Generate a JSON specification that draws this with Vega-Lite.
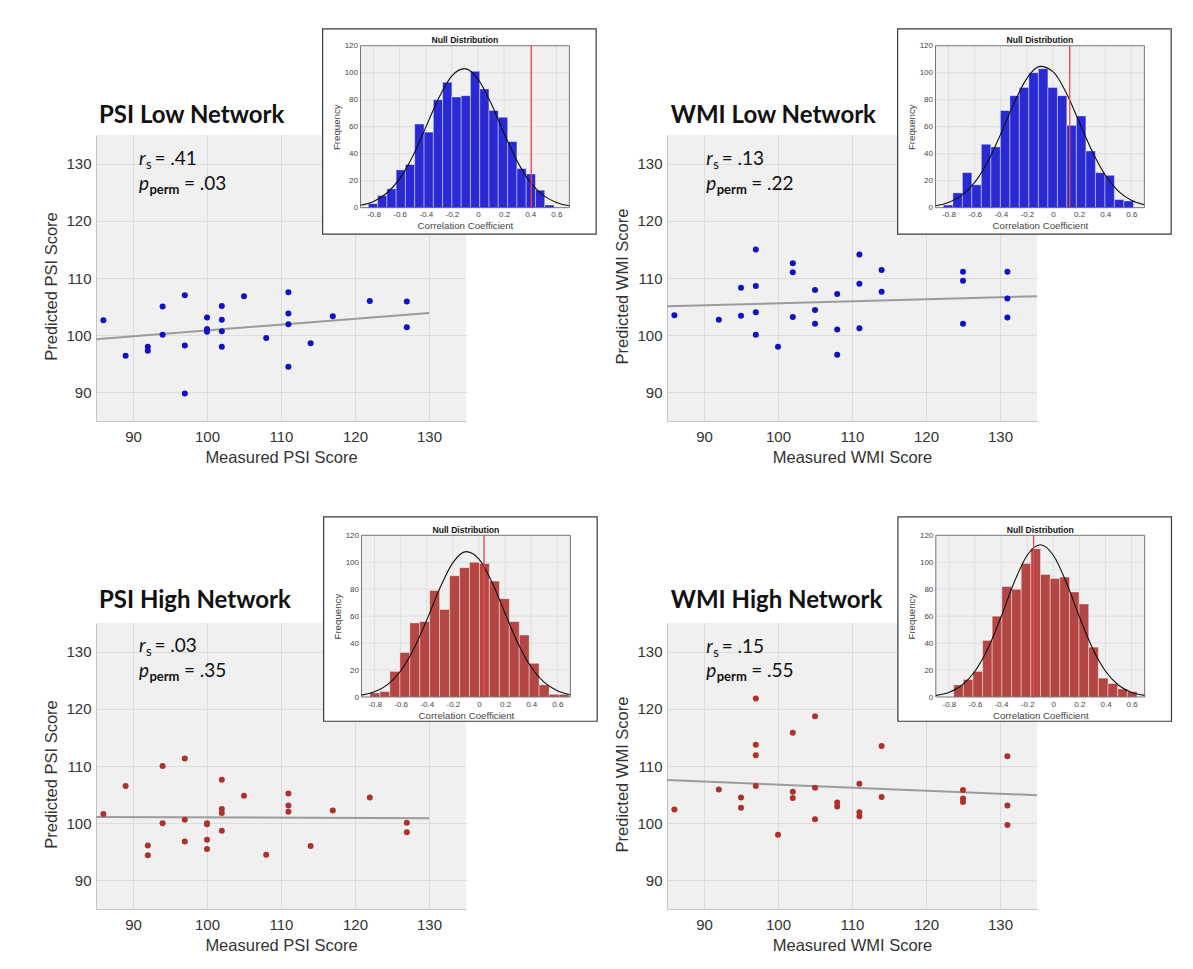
{
  "$schema": "https://vega.github.io/schema/vega-lite/v6.json",
  "background": "white",
  "padding": {"left": 43, "top": 28, "right": 5, "bottom": 5},
  "config": {
    "view": {"fill": "#f0f0f0", "stroke": null},
    "axis": {"labelFont": "Liberation Sans", "titleFont": "Liberation Sans", "labelColor": "#333333", "titleColor": "#333333", "titleFontWeight": "normal", "ticks": false, "labelOverlap": false},
    "text": {"font": "Lato", "color": "#111111"}
  },
  "columns": 2,
  "spacing": {"row": 202, "column": 201},
  "bounds": "flush",
  "concat": [
    {
      "width": 370, "height": 286,
      "resolve": {"scale": {"x": "independent", "y": "independent"}, "axis": {"x": "independent", "y": "independent"}},
      "layer": [
        {"layer": [
          {"data": {"name": "reg1"}, "mark": {"type": "line", "color": "#9c9c9c", "strokeWidth": 2},
           "encoding": {
             "x": {"field": "measured", "type": "quantitative", "scale": {"domain": [85, 135], "nice": false, "zero": false},
                   "axis": {"title": "Measured PSI Score", "values": [90, 100, 110, 120, 130], "grid": true, "gridColor": "#dcdcdc", "domainColor": "#c4c4c4", "labelFontSize": 15, "labelPadding": 8, "titleFontSize": 16.5, "titlePadding": 5}},
             "y": {"field": "predicted", "type": "quantitative", "scale": {"domain": [85, 135], "nice": false, "zero": false},
                   "axis": {"title": "Predicted PSI Score", "values": [90, 100, 110, 120, 130], "grid": true, "gridColor": "#dcdcdc", "domainColor": "#c4c4c4", "labelFontSize": 15, "labelPadding": 5, "titleFontSize": 16.5, "titlePadding": 6, "titleY": 151}}
           }},
          {"data": {"name": "psi_low"}, "mark": {"type": "circle", "size": 36, "opacity": 1, "color": "#1010c4"},
           "encoding": {"x": {"field": "measured", "type": "quantitative"}, "y": {"field": "predicted", "type": "quantitative"}}},
          {"data": {"values": [{}]}, "mark": {"type": "text", "text": "PSI Low Network", "fontWeight": "bold", "fontSize": 24, "align": "left", "baseline": "alphabetic"}, "encoding": {"x": {"datum": 85.4}, "y": {"datum": 137.05}}},
          {"data": {"values": [{}]}, "mark": {"type": "text", "text": "r", "fontStyle": "italic", "fontSize": 19, "align": "left", "baseline": "alphabetic"}, "encoding": {"x": {"datum": 90.8}, "y": {"datum": 129.75}}},
          {"data": {"values": [{}]}, "mark": {"type": "text", "text": "s", "fontSize": 13, "align": "left", "baseline": "alphabetic", "dx": 7, "dy": 4}, "encoding": {"x": {"datum": 90.8}, "y": {"datum": 129.75}}},
          {"data": {"values": [{}]}, "mark": {"type": "text", "text": "= .41", "fontSize": 19, "align": "left", "baseline": "alphabetic", "dx": 15.5}, "encoding": {"x": {"datum": 90.8}, "y": {"datum": 129.75}}},
          {"data": {"values": [{}]}, "mark": {"type": "text", "text": "p", "fontStyle": "italic", "fontSize": 19, "align": "left", "baseline": "alphabetic"}, "encoding": {"x": {"datum": 90.8}, "y": {"datum": 125.4}}},
          {"data": {"values": [{}]}, "mark": {"type": "text", "text": "perm", "fontSize": 13, "fontWeight": "bold", "align": "left", "baseline": "alphabetic", "dx": 10.5, "dy": 4}, "encoding": {"x": {"datum": 90.8}, "y": {"datum": 125.4}}},
          {"data": {"values": [{}]}, "mark": {"type": "text", "text": "= .03", "fontSize": 19, "align": "left", "baseline": "alphabetic", "dx": 45}, "encoding": {"x": {"datum": 90.8}, "y": {"datum": 125.4}}}
        ]},
        {"layer": [
          {"data": {"values": [{}]}, "mark": {"type": "rect", "fill": "white", "stroke": "#3a3a3a", "strokeWidth": 1.2},
           "encoding": {
             "x": {"datum": -1.19, "type": "quantitative", "scale": {"domain": [-0.9, 0.7], "range": [264.5, 473.4], "nice": false, "zero": false},
                   "axis": {"orient": "bottom", "offset": -213.3, "values": [-0.8, -0.6, -0.4, -0.2, 0, 0.2, 0.4, 0.6], "labelExpr": "datum.value == 0 ? '0' : toString(round(datum.value*10)/10)", "grid": false, "domain": false, "labelFontSize": 8, "labelColor": "#444444", "labelPadding": 3, "title": "Correlation Coefficient", "titleFontSize": 9.7, "titleColor": "#444444", "titlePadding": 2, "zindex": 1}},
             "x2": {"datum": 0.905},
             "y": {"datum": -19.5, "type": "quantitative", "scale": {"domain": [0, 120], "range": [72.7, -89.3], "nice": false, "zero": false},
                   "axis": {"orient": "left", "offset": -264.5, "values": [0, 20, 40, 60, 80, 100, 120], "grid": false, "domain": false, "labelFontSize": 8, "labelColor": "#444444", "labelPadding": 3, "title": "Frequency", "titleFontSize": 9.7, "titleColor": "#444444", "titlePadding": 3, "zindex": 1}},
             "y2": {"datum": 132.4}
           }},
          {"data": {"values": [{}]}, "mark": {"type": "rect", "fill": "#f0f0f0"}, "encoding": {"x": {"datum": -0.9}, "x2": {"datum": 0.7}, "y": {"datum": 0}, "y2": {"datum": 120}}},
          {"data": {"name": "xgrid"}, "mark": {"type": "rule", "stroke": "#d8d8d8", "strokeWidth": 0.7}, "encoding": {"x": {"field": "v", "type": "quantitative"}, "y": {"datum": 0}, "y2": {"datum": 120}}},
          {"data": {"name": "ygrid"}, "mark": {"type": "rule", "stroke": "#d8d8d8", "strokeWidth": 0.7}, "encoding": {"y": {"field": "v", "type": "quantitative"}, "x": {"datum": -0.9}, "x2": {"datum": 0.7}}},
          {"data": {"name": "h1"}, "mark": {"type": "rect", "fill": "#2a2ad4", "stroke": "#ffffff", "strokeOpacity": 0.5, "strokeWidth": 0.8}, "encoding": {"x": {"field": "lo", "type": "quantitative"}, "x2": {"field": "hi"}, "y": {"field": "count", "type": "quantitative"}, "y2": {"datum": 0}}},
          {"data": {"name": "c1"}, "mark": {"type": "line", "color": "#111111", "strokeWidth": 1.1, "interpolate": "monotone"}, "encoding": {"x": {"field": "r", "type": "quantitative"}, "y": {"field": "freq", "type": "quantitative"}}},
          {"data": {"values": [{"r": 0.408}]}, "mark": {"type": "rule", "color": "#e5484d", "strokeWidth": 1.3}, "encoding": {"x": {"field": "r", "type": "quantitative"}, "y": {"datum": 0}, "y2": {"datum": 120}}},
          {"data": {"values": [{}]}, "mark": {"type": "rect", "fillOpacity": 0, "stroke": "#555555", "strokeWidth": 0.8}, "encoding": {"x": {"datum": -0.9}, "x2": {"datum": 0.7}, "y": {"datum": 0}, "y2": {"datum": 120}}},
          {"data": {"values": [{}]}, "mark": {"type": "text", "text": "Null Distribution", "font": "Liberation Sans", "fontWeight": "bold", "fontSize": 8.6, "align": "center", "baseline": "alphabetic", "dy": -2.5}, "encoding": {"x": {"datum": -0.1}, "y": {"datum": 120}}}
        ]}
      ]
    },
    {
      "width": 370, "height": 286,
      "resolve": {"scale": {"x": "independent", "y": "independent"}, "axis": {"x": "independent", "y": "independent"}},
      "layer": [
        {"layer": [
          {"data": {"name": "reg2"}, "mark": {"type": "line", "color": "#9c9c9c", "strokeWidth": 2},
           "encoding": {
             "x": {"field": "measured", "type": "quantitative", "scale": {"domain": [85, 135], "nice": false, "zero": false},
                   "axis": {"title": "Measured WMI Score", "values": [90, 100, 110, 120, 130], "grid": true, "gridColor": "#dcdcdc", "domainColor": "#c4c4c4", "labelFontSize": 15, "labelPadding": 8, "titleFontSize": 16.5, "titlePadding": 5}},
             "y": {"field": "predicted", "type": "quantitative", "scale": {"domain": [85, 135], "nice": false, "zero": false},
                   "axis": {"title": "Predicted WMI Score", "values": [90, 100, 110, 120, 130], "grid": true, "gridColor": "#dcdcdc", "domainColor": "#c4c4c4", "labelFontSize": 15, "labelPadding": 5, "titleFontSize": 16.5, "titlePadding": 6, "titleY": 151}}
           }},
          {"data": {"name": "wmi_low"}, "mark": {"type": "circle", "size": 36, "opacity": 1, "color": "#1010c4"},
           "encoding": {"x": {"field": "measured", "type": "quantitative"}, "y": {"field": "predicted", "type": "quantitative"}}},
          {"data": {"values": [{}]}, "mark": {"type": "text", "text": "WMI Low Network", "fontWeight": "bold", "fontSize": 24, "align": "left", "baseline": "alphabetic"}, "encoding": {"x": {"datum": 85.5}, "y": {"datum": 137.05}}},
          {"data": {"values": [{}]}, "mark": {"type": "text", "text": "r", "fontStyle": "italic", "fontSize": 19, "align": "left", "baseline": "alphabetic"}, "encoding": {"x": {"datum": 90.3}, "y": {"datum": 129.75}}},
          {"data": {"values": [{}]}, "mark": {"type": "text", "text": "s", "fontSize": 13, "align": "left", "baseline": "alphabetic", "dx": 7, "dy": 4}, "encoding": {"x": {"datum": 90.3}, "y": {"datum": 129.75}}},
          {"data": {"values": [{}]}, "mark": {"type": "text", "text": "= .13", "fontSize": 19, "align": "left", "baseline": "alphabetic", "dx": 15.5}, "encoding": {"x": {"datum": 90.3}, "y": {"datum": 129.75}}},
          {"data": {"values": [{}]}, "mark": {"type": "text", "text": "p", "fontStyle": "italic", "fontSize": 19, "align": "left", "baseline": "alphabetic"}, "encoding": {"x": {"datum": 90.3}, "y": {"datum": 125.4}}},
          {"data": {"values": [{}]}, "mark": {"type": "text", "text": "perm", "fontSize": 13, "fontWeight": "bold", "align": "left", "baseline": "alphabetic", "dx": 10.5, "dy": 4}, "encoding": {"x": {"datum": 90.3}, "y": {"datum": 125.4}}},
          {"data": {"values": [{}]}, "mark": {"type": "text", "text": "= .22", "fontSize": 19, "align": "left", "baseline": "alphabetic", "dx": 45}, "encoding": {"x": {"datum": 90.3}, "y": {"datum": 125.4}}}
        ]},
        {"layer": [
          {"data": {"values": [{}]}, "mark": {"type": "rect", "fill": "white", "stroke": "#3a3a3a", "strokeWidth": 1.2},
           "encoding": {
             "x": {"datum": -1.19, "type": "quantitative", "scale": {"domain": [-0.9, 0.7], "range": [268.5, 477.4], "nice": false, "zero": false},
                   "axis": {"orient": "bottom", "offset": -213.3, "values": [-0.8, -0.6, -0.4, -0.2, 0, 0.2, 0.4, 0.6], "labelExpr": "datum.value == 0 ? '0' : toString(round(datum.value*10)/10)", "grid": false, "domain": false, "labelFontSize": 8, "labelColor": "#444444", "labelPadding": 3, "title": "Correlation Coefficient", "titleFontSize": 9.7, "titleColor": "#444444", "titlePadding": 2, "zindex": 1}},
             "x2": {"datum": 0.905},
             "y": {"datum": -19.5, "type": "quantitative", "scale": {"domain": [0, 120], "range": [72.7, -89.3], "nice": false, "zero": false},
                   "axis": {"orient": "left", "offset": -268.5, "values": [0, 20, 40, 60, 80, 100, 120], "grid": false, "domain": false, "labelFontSize": 8, "labelColor": "#444444", "labelPadding": 3, "title": "Frequency", "titleFontSize": 9.7, "titleColor": "#444444", "titlePadding": 3, "zindex": 1}},
             "y2": {"datum": 132.4}
           }},
          {"data": {"values": [{}]}, "mark": {"type": "rect", "fill": "#f0f0f0"}, "encoding": {"x": {"datum": -0.9}, "x2": {"datum": 0.7}, "y": {"datum": 0}, "y2": {"datum": 120}}},
          {"data": {"name": "xgrid"}, "mark": {"type": "rule", "stroke": "#d8d8d8", "strokeWidth": 0.7}, "encoding": {"x": {"field": "v", "type": "quantitative"}, "y": {"datum": 0}, "y2": {"datum": 120}}},
          {"data": {"name": "ygrid"}, "mark": {"type": "rule", "stroke": "#d8d8d8", "strokeWidth": 0.7}, "encoding": {"y": {"field": "v", "type": "quantitative"}, "x": {"datum": -0.9}, "x2": {"datum": 0.7}}},
          {"data": {"name": "h2"}, "mark": {"type": "rect", "fill": "#2a2ad4", "stroke": "#ffffff", "strokeOpacity": 0.5, "strokeWidth": 0.8}, "encoding": {"x": {"field": "lo", "type": "quantitative"}, "x2": {"field": "hi"}, "y": {"field": "count", "type": "quantitative"}, "y2": {"datum": 0}}},
          {"data": {"name": "c2"}, "mark": {"type": "line", "color": "#111111", "strokeWidth": 1.1, "interpolate": "monotone"}, "encoding": {"x": {"field": "r", "type": "quantitative"}, "y": {"field": "freq", "type": "quantitative"}}},
          {"data": {"values": [{"r": 0.128}]}, "mark": {"type": "rule", "color": "#e5484d", "strokeWidth": 1.3}, "encoding": {"x": {"field": "r", "type": "quantitative"}, "y": {"datum": 0}, "y2": {"datum": 120}}},
          {"data": {"values": [{}]}, "mark": {"type": "rect", "fillOpacity": 0, "stroke": "#555555", "strokeWidth": 0.8}, "encoding": {"x": {"datum": -0.9}, "x2": {"datum": 0.7}, "y": {"datum": 0}, "y2": {"datum": 120}}},
          {"data": {"values": [{}]}, "mark": {"type": "text", "text": "Null Distribution", "font": "Liberation Sans", "fontWeight": "bold", "fontSize": 8.6, "align": "center", "baseline": "alphabetic", "dy": -2.5}, "encoding": {"x": {"datum": -0.1}, "y": {"datum": 120}}}
        ]}
      ]
    },
    {
      "width": 370, "height": 286,
      "resolve": {"scale": {"x": "independent", "y": "independent"}, "axis": {"x": "independent", "y": "independent"}},
      "layer": [
        {"layer": [
          {"data": {"name": "reg3"}, "mark": {"type": "line", "color": "#9c9c9c", "strokeWidth": 2},
           "encoding": {
             "x": {"field": "measured", "type": "quantitative", "scale": {"domain": [85, 135], "nice": false, "zero": false},
                   "axis": {"title": "Measured PSI Score", "values": [90, 100, 110, 120, 130], "grid": true, "gridColor": "#dcdcdc", "domainColor": "#c4c4c4", "labelFontSize": 15, "labelPadding": 8, "titleFontSize": 16.5, "titlePadding": 5}},
             "y": {"field": "predicted", "type": "quantitative", "scale": {"domain": [85, 135], "nice": false, "zero": false},
                   "axis": {"title": "Predicted PSI Score", "values": [90, 100, 110, 120, 130], "grid": true, "gridColor": "#dcdcdc", "domainColor": "#c4c4c4", "labelFontSize": 15, "labelPadding": 5, "titleFontSize": 16.5, "titlePadding": 6, "titleY": 151}}
           }},
          {"data": {"name": "psi_high"}, "mark": {"type": "circle", "size": 36, "opacity": 1, "color": "#ad3229"},
           "encoding": {"x": {"field": "measured", "type": "quantitative"}, "y": {"field": "predicted", "type": "quantitative"}}},
          {"data": {"values": [{}]}, "mark": {"type": "text", "text": "PSI High Network", "fontWeight": "bold", "fontSize": 24, "align": "left", "baseline": "alphabetic"}, "encoding": {"x": {"datum": 85.4}, "y": {"datum": 137.6}}},
          {"data": {"values": [{}]}, "mark": {"type": "text", "text": "r", "fontStyle": "italic", "fontSize": 19, "align": "left", "baseline": "alphabetic"}, "encoding": {"x": {"datum": 90.8}, "y": {"datum": 130.0}}},
          {"data": {"values": [{}]}, "mark": {"type": "text", "text": "s", "fontSize": 13, "align": "left", "baseline": "alphabetic", "dx": 7, "dy": 4}, "encoding": {"x": {"datum": 90.8}, "y": {"datum": 130.0}}},
          {"data": {"values": [{}]}, "mark": {"type": "text", "text": "= .03", "fontSize": 19, "align": "left", "baseline": "alphabetic", "dx": 15.5}, "encoding": {"x": {"datum": 90.8}, "y": {"datum": 130.0}}},
          {"data": {"values": [{}]}, "mark": {"type": "text", "text": "p", "fontStyle": "italic", "fontSize": 19, "align": "left", "baseline": "alphabetic"}, "encoding": {"x": {"datum": 90.8}, "y": {"datum": 125.6}}},
          {"data": {"values": [{}]}, "mark": {"type": "text", "text": "perm", "fontSize": 13, "fontWeight": "bold", "align": "left", "baseline": "alphabetic", "dx": 10.5, "dy": 4}, "encoding": {"x": {"datum": 90.8}, "y": {"datum": 125.6}}},
          {"data": {"values": [{}]}, "mark": {"type": "text", "text": "= .35", "fontSize": 19, "align": "left", "baseline": "alphabetic", "dx": 45}, "encoding": {"x": {"datum": 90.8}, "y": {"datum": 125.6}}}
        ]},
        {"layer": [
          {"data": {"values": [{}]}, "mark": {"type": "rect", "fill": "white", "stroke": "#3a3a3a", "strokeWidth": 1.2},
           "encoding": {
             "x": {"datum": -1.19, "type": "quantitative", "scale": {"domain": [-0.9, 0.7], "range": [265.5, 474.4], "nice": false, "zero": false},
                   "axis": {"orient": "bottom", "offset": -212, "values": [-0.8, -0.6, -0.4, -0.2, 0, 0.2, 0.4, 0.6], "labelExpr": "datum.value == 0 ? '0' : toString(round(datum.value*10)/10)", "grid": false, "domain": false, "labelFontSize": 8, "labelColor": "#444444", "labelPadding": 3, "title": "Correlation Coefficient", "titleFontSize": 9.7, "titleColor": "#444444", "titlePadding": 2, "zindex": 1}},
             "x2": {"datum": 0.905},
             "y": {"datum": -18, "type": "quantitative", "scale": {"domain": [0, 120], "range": [74, -87.7], "nice": false, "zero": false},
                   "axis": {"orient": "left", "offset": -265.5, "values": [0, 20, 40, 60, 80, 100, 120], "grid": false, "domain": false, "labelFontSize": 8, "labelColor": "#444444", "labelPadding": 3, "title": "Frequency", "titleFontSize": 9.7, "titleColor": "#444444", "titlePadding": 3, "zindex": 1}},
             "y2": {"datum": 133.6}
           }},
          {"data": {"values": [{}]}, "mark": {"type": "rect", "fill": "#f0f0f0"}, "encoding": {"x": {"datum": -0.9}, "x2": {"datum": 0.7}, "y": {"datum": 0}, "y2": {"datum": 120}}},
          {"data": {"name": "xgrid"}, "mark": {"type": "rule", "stroke": "#d8d8d8", "strokeWidth": 0.7}, "encoding": {"x": {"field": "v", "type": "quantitative"}, "y": {"datum": 0}, "y2": {"datum": 120}}},
          {"data": {"name": "ygrid"}, "mark": {"type": "rule", "stroke": "#d8d8d8", "strokeWidth": 0.7}, "encoding": {"y": {"field": "v", "type": "quantitative"}, "x": {"datum": -0.9}, "x2": {"datum": 0.7}}},
          {"data": {"name": "h3"}, "mark": {"type": "rect", "fill": "#b44644", "stroke": "#ffffff", "strokeOpacity": 0.5, "strokeWidth": 0.8}, "encoding": {"x": {"field": "lo", "type": "quantitative"}, "x2": {"field": "hi"}, "y": {"field": "count", "type": "quantitative"}, "y2": {"datum": 0}}},
          {"data": {"name": "c3"}, "mark": {"type": "line", "color": "#111111", "strokeWidth": 1.1, "interpolate": "monotone"}, "encoding": {"x": {"field": "r", "type": "quantitative"}, "y": {"field": "freq", "type": "quantitative"}}},
          {"data": {"values": [{"r": 0.038}]}, "mark": {"type": "rule", "color": "#e5484d", "strokeWidth": 1.3}, "encoding": {"x": {"field": "r", "type": "quantitative"}, "y": {"datum": 0}, "y2": {"datum": 120}}},
          {"data": {"values": [{}]}, "mark": {"type": "rect", "fillOpacity": 0, "stroke": "#555555", "strokeWidth": 0.8}, "encoding": {"x": {"datum": -0.9}, "x2": {"datum": 0.7}, "y": {"datum": 0}, "y2": {"datum": 120}}},
          {"data": {"values": [{}]}, "mark": {"type": "text", "text": "Null Distribution", "font": "Liberation Sans", "fontWeight": "bold", "fontSize": 8.6, "align": "center", "baseline": "alphabetic", "dy": -2.5}, "encoding": {"x": {"datum": -0.1}, "y": {"datum": 120}}}
        ]}
      ]
    },
    {
      "width": 370, "height": 286,
      "resolve": {"scale": {"x": "independent", "y": "independent"}, "axis": {"x": "independent", "y": "independent"}},
      "layer": [
        {"layer": [
          {"data": {"name": "reg4"}, "mark": {"type": "line", "color": "#9c9c9c", "strokeWidth": 2},
           "encoding": {
             "x": {"field": "measured", "type": "quantitative", "scale": {"domain": [85, 135], "nice": false, "zero": false},
                   "axis": {"title": "Measured WMI Score", "values": [90, 100, 110, 120, 130], "grid": true, "gridColor": "#dcdcdc", "domainColor": "#c4c4c4", "labelFontSize": 15, "labelPadding": 8, "titleFontSize": 16.5, "titlePadding": 5}},
             "y": {"field": "predicted", "type": "quantitative", "scale": {"domain": [85, 135], "nice": false, "zero": false},
                   "axis": {"title": "Predicted WMI Score", "values": [90, 100, 110, 120, 130], "grid": true, "gridColor": "#dcdcdc", "domainColor": "#c4c4c4", "labelFontSize": 15, "labelPadding": 5, "titleFontSize": 16.5, "titlePadding": 6, "titleY": 151}}
           }},
          {"data": {"name": "wmi_high"}, "mark": {"type": "circle", "size": 36, "opacity": 1, "color": "#ad3229"},
           "encoding": {"x": {"field": "measured", "type": "quantitative"}, "y": {"field": "predicted", "type": "quantitative"}}},
          {"data": {"values": [{}]}, "mark": {"type": "text", "text": "WMI High Network", "fontWeight": "bold", "fontSize": 24, "align": "left", "baseline": "alphabetic"}, "encoding": {"x": {"datum": 85.5}, "y": {"datum": 137.6}}},
          {"data": {"values": [{}]}, "mark": {"type": "text", "text": "r", "fontStyle": "italic", "fontSize": 19, "align": "left", "baseline": "alphabetic"}, "encoding": {"x": {"datum": 90.3}, "y": {"datum": 129.8}}},
          {"data": {"values": [{}]}, "mark": {"type": "text", "text": "s", "fontSize": 13, "align": "left", "baseline": "alphabetic", "dx": 7, "dy": 4}, "encoding": {"x": {"datum": 90.3}, "y": {"datum": 129.8}}},
          {"data": {"values": [{}]}, "mark": {"type": "text", "text": "= .15", "fontSize": 19, "align": "left", "baseline": "alphabetic", "dx": 15.5}, "encoding": {"x": {"datum": 90.3}, "y": {"datum": 129.8}}},
          {"data": {"values": [{}]}, "mark": {"type": "text", "text": "p", "fontStyle": "italic", "fontSize": 19, "align": "left", "baseline": "alphabetic"}, "encoding": {"x": {"datum": 90.3}, "y": {"datum": 125.6}}},
          {"data": {"values": [{}]}, "mark": {"type": "text", "text": "perm", "fontSize": 13, "fontWeight": "bold", "align": "left", "baseline": "alphabetic", "dx": 10.5, "dy": 4}, "encoding": {"x": {"datum": 90.3}, "y": {"datum": 125.6}}},
          {"data": {"values": [{}]}, "mark": {"type": "text", "text": "= .55", "fontSize": 19, "align": "left", "baseline": "alphabetic", "dx": 45}, "encoding": {"x": {"datum": 90.3}, "y": {"datum": 125.6}}}
        ]},
        {"layer": [
          {"data": {"values": [{}]}, "mark": {"type": "rect", "fill": "white", "stroke": "#3a3a3a", "strokeWidth": 1.2},
           "encoding": {
             "x": {"datum": -1.19, "type": "quantitative", "scale": {"domain": [-0.9, 0.7], "range": [268.8, 477.7], "nice": false, "zero": false},
                   "axis": {"orient": "bottom", "offset": -212, "values": [-0.8, -0.6, -0.4, -0.2, 0, 0.2, 0.4, 0.6], "labelExpr": "datum.value == 0 ? '0' : toString(round(datum.value*10)/10)", "grid": false, "domain": false, "labelFontSize": 8, "labelColor": "#444444", "labelPadding": 3, "title": "Correlation Coefficient", "titleFontSize": 9.7, "titleColor": "#444444", "titlePadding": 2, "zindex": 1}},
             "x2": {"datum": 0.905},
             "y": {"datum": -18, "type": "quantitative", "scale": {"domain": [0, 120], "range": [74, -87.7], "nice": false, "zero": false},
                   "axis": {"orient": "left", "offset": -268.8, "values": [0, 20, 40, 60, 80, 100, 120], "grid": false, "domain": false, "labelFontSize": 8, "labelColor": "#444444", "labelPadding": 3, "title": "Frequency", "titleFontSize": 9.7, "titleColor": "#444444", "titlePadding": 3, "zindex": 1}},
             "y2": {"datum": 133.6}
           }},
          {"data": {"values": [{}]}, "mark": {"type": "rect", "fill": "#f0f0f0"}, "encoding": {"x": {"datum": -0.9}, "x2": {"datum": 0.7}, "y": {"datum": 0}, "y2": {"datum": 120}}},
          {"data": {"name": "xgrid"}, "mark": {"type": "rule", "stroke": "#d8d8d8", "strokeWidth": 0.7}, "encoding": {"x": {"field": "v", "type": "quantitative"}, "y": {"datum": 0}, "y2": {"datum": 120}}},
          {"data": {"name": "ygrid"}, "mark": {"type": "rule", "stroke": "#d8d8d8", "strokeWidth": 0.7}, "encoding": {"y": {"field": "v", "type": "quantitative"}, "x": {"datum": -0.9}, "x2": {"datum": 0.7}}},
          {"data": {"name": "h4"}, "mark": {"type": "rect", "fill": "#b44644", "stroke": "#ffffff", "strokeOpacity": 0.5, "strokeWidth": 0.8}, "encoding": {"x": {"field": "lo", "type": "quantitative"}, "x2": {"field": "hi"}, "y": {"field": "count", "type": "quantitative"}, "y2": {"datum": 0}}},
          {"data": {"name": "c4"}, "mark": {"type": "line", "color": "#111111", "strokeWidth": 1.1, "interpolate": "monotone"}, "encoding": {"x": {"field": "r", "type": "quantitative"}, "y": {"field": "freq", "type": "quantitative"}}},
          {"data": {"values": [{"r": -0.151}]}, "mark": {"type": "rule", "color": "#e5484d", "strokeWidth": 1.3}, "encoding": {"x": {"field": "r", "type": "quantitative"}, "y": {"datum": 0}, "y2": {"datum": 120}}},
          {"data": {"values": [{}]}, "mark": {"type": "rect", "fillOpacity": 0, "stroke": "#555555", "strokeWidth": 0.8}, "encoding": {"x": {"datum": -0.9}, "x2": {"datum": 0.7}, "y": {"datum": 0}, "y2": {"datum": 120}}},
          {"data": {"values": [{}]}, "mark": {"type": "text", "text": "Null Distribution", "font": "Liberation Sans", "fontWeight": "bold", "fontSize": 8.6, "align": "center", "baseline": "alphabetic", "dy": -2.5}, "encoding": {"x": {"datum": -0.1}, "y": {"datum": 120}}}
        ]}
      ]
    }
  ],
  "datasets": {
    "xgrid": [{"v": -0.8}, {"v": -0.6}, {"v": -0.4}, {"v": -0.2}, {"v": 0}, {"v": 0.2}, {"v": 0.4}, {"v": 0.6}],
    "ygrid": [{"v": 20}, {"v": 40}, {"v": 60}, {"v": 80}, {"v": 100}],
    "reg1": [{"measured": 85, "predicted": 99.3}, {"measured": 130, "predicted": 103.9}],
    "reg2": [{"measured": 85, "predicted": 105.05}, {"measured": 135, "predicted": 106.8}],
    "reg3": [{"measured": 85, "predicted": 101.1}, {"measured": 130, "predicted": 100.85}],
    "reg4": [{"measured": 85, "predicted": 107.55}, {"measured": 135, "predicted": 104.9}],
    "psi_low": [
      {"measured": 86, "predicted": 102.6}, {"measured": 89, "predicted": 96.4}, {"measured": 92, "predicted": 98.0}, {"measured": 92, "predicted": 97.3},
      {"measured": 94, "predicted": 105.0}, {"measured": 94, "predicted": 100.1}, {"measured": 97, "predicted": 107.0}, {"measured": 97, "predicted": 98.2},
      {"measured": 97, "predicted": 89.8}, {"measured": 100, "predicted": 103.1}, {"measured": 100, "predicted": 101.1}, {"measured": 100, "predicted": 100.6},
      {"measured": 102, "predicted": 105.1}, {"measured": 102, "predicted": 102.7}, {"measured": 102, "predicted": 100.7}, {"measured": 102, "predicted": 98.0},
      {"measured": 105, "predicted": 106.8}, {"measured": 108, "predicted": 99.5}, {"measured": 111, "predicted": 107.5}, {"measured": 111, "predicted": 103.8},
      {"measured": 111, "predicted": 101.9}, {"measured": 111, "predicted": 94.5}, {"measured": 114, "predicted": 98.6}, {"measured": 117, "predicted": 103.3},
      {"measured": 122, "predicted": 106.0}, {"measured": 127, "predicted": 105.9}, {"measured": 127, "predicted": 101.4}
    ],
    "wmi_low": [
      {"measured": 86, "predicted": 103.5}, {"measured": 92, "predicted": 102.7}, {"measured": 95, "predicted": 108.3}, {"measured": 95, "predicted": 103.4},
      {"measured": 97, "predicted": 115.0}, {"measured": 97, "predicted": 108.6}, {"measured": 97, "predicted": 104.0}, {"measured": 97, "predicted": 100.1},
      {"measured": 100, "predicted": 98.0}, {"measured": 102, "predicted": 112.6}, {"measured": 102, "predicted": 111.0}, {"measured": 102, "predicted": 103.2},
      {"measured": 105, "predicted": 107.9}, {"measured": 105, "predicted": 104.4}, {"measured": 105, "predicted": 102.0}, {"measured": 108, "predicted": 107.2},
      {"measured": 108, "predicted": 101.0}, {"measured": 108, "predicted": 96.6}, {"measured": 111, "predicted": 114.1}, {"measured": 111, "predicted": 109.0},
      {"measured": 111, "predicted": 101.2}, {"measured": 114, "predicted": 111.4}, {"measured": 114, "predicted": 107.6}, {"measured": 125, "predicted": 111.1},
      {"measured": 125, "predicted": 109.5}, {"measured": 125, "predicted": 102.0}, {"measured": 131, "predicted": 111.1}, {"measured": 131, "predicted": 106.4},
      {"measured": 131, "predicted": 103.1}
    ],
    "psi_high": [
      {"measured": 86, "predicted": 101.6}, {"measured": 89, "predicted": 106.5}, {"measured": 92, "predicted": 96.1}, {"measured": 92, "predicted": 94.4},
      {"measured": 94, "predicted": 110.0}, {"measured": 94, "predicted": 100.0}, {"measured": 97, "predicted": 111.3}, {"measured": 97, "predicted": 100.6},
      {"measured": 97, "predicted": 96.8}, {"measured": 100, "predicted": 100.0}, {"measured": 100, "predicted": 99.8}, {"measured": 100, "predicted": 97.1},
      {"measured": 100, "predicted": 95.5}, {"measured": 102, "predicted": 107.6}, {"measured": 102, "predicted": 102.5}, {"measured": 102, "predicted": 101.8},
      {"measured": 102, "predicted": 98.7}, {"measured": 105, "predicted": 104.8}, {"measured": 108, "predicted": 94.5}, {"measured": 111, "predicted": 105.2},
      {"measured": 111, "predicted": 103.1}, {"measured": 111, "predicted": 102.0}, {"measured": 114, "predicted": 96.0}, {"measured": 117, "predicted": 102.2},
      {"measured": 122, "predicted": 104.5}, {"measured": 127, "predicted": 100.1}, {"measured": 127, "predicted": 98.4}
    ],
    "wmi_high": [
      {"measured": 86, "predicted": 102.4}, {"measured": 92, "predicted": 105.9}, {"measured": 95, "predicted": 104.5}, {"measured": 95, "predicted": 102.7},
      {"measured": 97, "predicted": 121.8}, {"measured": 97, "predicted": 113.7}, {"measured": 97, "predicted": 111.9}, {"measured": 97, "predicted": 106.5},
      {"measured": 100, "predicted": 98.0}, {"measured": 102, "predicted": 115.8}, {"measured": 102, "predicted": 105.5}, {"measured": 102, "predicted": 104.4},
      {"measured": 105, "predicted": 118.7}, {"measured": 105, "predicted": 106.2}, {"measured": 105, "predicted": 100.7}, {"measured": 108, "predicted": 103.6},
      {"measured": 108, "predicted": 102.9}, {"measured": 111, "predicted": 106.9}, {"measured": 111, "predicted": 101.9}, {"measured": 111, "predicted": 101.2},
      {"measured": 114, "predicted": 113.5}, {"measured": 114, "predicted": 104.6}, {"measured": 125, "predicted": 105.8}, {"measured": 125, "predicted": 104.3},
      {"measured": 125, "predicted": 103.7}, {"measured": 131, "predicted": 111.7}, {"measured": 131, "predicted": 103.1}, {"measured": 131, "predicted": 99.7}
    ],
    "h1": [
      {"lo": -0.840, "hi": -0.769, "count": 3}, {"lo": -0.769, "hi": -0.698, "count": 9}, {"lo": -0.698, "hi": -0.627, "count": 14}, {"lo": -0.627, "hi": -0.556, "count": 28},
      {"lo": -0.556, "hi": -0.485, "count": 32}, {"lo": -0.485, "hi": -0.413, "count": 62}, {"lo": -0.413, "hi": -0.342, "count": 56}, {"lo": -0.342, "hi": -0.271, "count": 80},
      {"lo": -0.271, "hi": -0.200, "count": 93}, {"lo": -0.200, "hi": -0.129, "count": 82}, {"lo": -0.129, "hi": -0.058, "count": 83}, {"lo": -0.058, "hi": 0.013, "count": 101},
      {"lo": 0.013, "hi": 0.084, "count": 88}, {"lo": 0.084, "hi": 0.155, "count": 72}, {"lo": 0.155, "hi": 0.227, "count": 67}, {"lo": 0.227, "hi": 0.298, "count": 49},
      {"lo": 0.298, "hi": 0.369, "count": 29}, {"lo": 0.369, "hi": 0.440, "count": 25}, {"lo": 0.440, "hi": 0.511, "count": 13}, {"lo": 0.511, "hi": 0.582, "count": 2}
    ],
    "h2": [
      {"lo": -0.840, "hi": -0.767, "count": 2}, {"lo": -0.767, "hi": -0.694, "count": 11}, {"lo": -0.694, "hi": -0.622, "count": 26}, {"lo": -0.622, "hi": -0.549, "count": 17},
      {"lo": -0.549, "hi": -0.476, "count": 47}, {"lo": -0.476, "hi": -0.403, "count": 45}, {"lo": -0.403, "hi": -0.330, "count": 72}, {"lo": -0.330, "hi": -0.258, "count": 83},
      {"lo": -0.258, "hi": -0.185, "count": 89}, {"lo": -0.185, "hi": -0.112, "count": 100}, {"lo": -0.112, "hi": -0.039, "count": 103}, {"lo": -0.039, "hi": 0.034, "count": 89},
      {"lo": 0.034, "hi": 0.106, "count": 83}, {"lo": 0.106, "hi": 0.179, "count": 61}, {"lo": 0.179, "hi": 0.252, "count": 68}, {"lo": 0.252, "hi": 0.325, "count": 42},
      {"lo": 0.325, "hi": 0.398, "count": 26}, {"lo": 0.398, "hi": 0.470, "count": 24}, {"lo": 0.470, "hi": 0.543, "count": 6}, {"lo": 0.543, "hi": 0.616, "count": 5}
    ],
    "h3": [
      {"lo": -0.835, "hi": -0.759, "count": 3}, {"lo": -0.759, "hi": -0.683, "count": 4}, {"lo": -0.683, "hi": -0.606, "count": 19}, {"lo": -0.606, "hi": -0.530, "count": 33},
      {"lo": -0.530, "hi": -0.454, "count": 55}, {"lo": -0.454, "hi": -0.378, "count": 56}, {"lo": -0.378, "hi": -0.302, "count": 79}, {"lo": -0.302, "hi": -0.225, "count": 65},
      {"lo": -0.225, "hi": -0.149, "count": 90}, {"lo": -0.149, "hi": -0.073, "count": 96}, {"lo": -0.073, "hi": 0.003, "count": 100}, {"lo": 0.003, "hi": 0.079, "count": 99},
      {"lo": 0.079, "hi": 0.156, "count": 86}, {"lo": 0.156, "hi": 0.232, "count": 73}, {"lo": 0.232, "hi": 0.308, "count": 56}, {"lo": 0.308, "hi": 0.384, "count": 46},
      {"lo": 0.384, "hi": 0.460, "count": 25}, {"lo": 0.460, "hi": 0.537, "count": 9}, {"lo": 0.537, "hi": 0.613, "count": 2}, {"lo": 0.613, "hi": 0.689, "count": 2}
    ],
    "h4": [
      {"lo": -0.763, "hi": -0.689, "count": 9}, {"lo": -0.689, "hi": -0.615, "count": 13}, {"lo": -0.615, "hi": -0.541, "count": 19}, {"lo": -0.541, "hi": -0.468, "count": 42},
      {"lo": -0.468, "hi": -0.394, "count": 60}, {"lo": -0.394, "hi": -0.320, "count": 82}, {"lo": -0.320, "hi": -0.246, "count": 80}, {"lo": -0.246, "hi": -0.172, "count": 99},
      {"lo": -0.172, "hi": -0.098, "count": 110}, {"lo": -0.098, "hi": -0.024, "count": 91}, {"lo": -0.024, "hi": 0.050, "count": 88}, {"lo": 0.050, "hi": 0.124, "count": 89},
      {"lo": 0.124, "hi": 0.197, "count": 78}, {"lo": 0.197, "hi": 0.271, "count": 69}, {"lo": 0.271, "hi": 0.345, "count": 37}, {"lo": 0.345, "hi": 0.419, "count": 14},
      {"lo": 0.419, "hi": 0.493, "count": 10}, {"lo": 0.493, "hi": 0.567, "count": 6}, {"lo": 0.567, "hi": 0.641, "count": 4}
    ],
    "c1": [
      {"r": -0.9, "freq": 1.8}, {"r": -0.8, "freq": 4.6}, {"r": -0.7, "freq": 10.7}, {"r": -0.6, "freq": 21.5}, {"r": -0.5, "freq": 38.2}, {"r": -0.4, "freq": 59.5},
      {"r": -0.3, "freq": 81.4}, {"r": -0.2, "freq": 97.7}, {"r": -0.1, "freq": 103}, {"r": 0, "freq": 95.2}, {"r": 0.1, "freq": 77.3}, {"r": 0.2, "freq": 55.1},
      {"r": 0.3, "freq": 34.5}, {"r": 0.4, "freq": 18.9}, {"r": 0.5, "freq": 9.1}, {"r": 0.6, "freq": 3.9}, {"r": 0.7, "freq": 1.4}
    ],
    "c2": [
      {"r": -0.9, "freq": 1.4}, {"r": -0.8, "freq": 3.9}, {"r": -0.7, "freq": 9.1}, {"r": -0.6, "freq": 18.7}, {"r": -0.5, "freq": 34.1}, {"r": -0.4, "freq": 54.7},
      {"r": -0.3, "freq": 77.1}, {"r": -0.2, "freq": 95.8}, {"r": -0.1, "freq": 104.7}, {"r": 0, "freq": 100.8}, {"r": 0.1, "freq": 85.4}, {"r": 0.2, "freq": 63.7},
      {"r": 0.3, "freq": 41.8}, {"r": 0.4, "freq": 24.2}, {"r": 0.5, "freq": 12.3}, {"r": 0.6, "freq": 5.5}, {"r": 0.7, "freq": 2.2}
    ],
    "c3": [
      {"r": -0.9, "freq": 1.4}, {"r": -0.8, "freq": 3.9}, {"r": -0.7, "freq": 9.2}, {"r": -0.6, "freq": 19.3}, {"r": -0.5, "freq": 35.6}, {"r": -0.4, "freq": 57.2},
      {"r": -0.3, "freq": 80.7}, {"r": -0.2, "freq": 99.7}, {"r": -0.1, "freq": 107.9}, {"r": 0, "freq": 102.4}, {"r": 0.1, "freq": 85.1}, {"r": 0.2, "freq": 61.9},
      {"r": 0.3, "freq": 39.5}, {"r": 0.4, "freq": 22.1}, {"r": 0.5, "freq": 10.8}, {"r": 0.6, "freq": 4.6}, {"r": 0.7, "freq": 1.7}
    ],
    "c4": [
      {"r": -0.9, "freq": 1.2}, {"r": -0.8, "freq": 3.4}, {"r": -0.7, "freq": 8.7}, {"r": -0.6, "freq": 19.1}, {"r": -0.5, "freq": 36.2}, {"r": -0.4, "freq": 59.5},
      {"r": -0.3, "freq": 85.0}, {"r": -0.2, "freq": 105.2}, {"r": -0.1, "freq": 113}, {"r": 0, "freq": 105.2}, {"r": 0.1, "freq": 85.0}, {"r": 0.2, "freq": 59.5},
      {"r": 0.3, "freq": 36.2}, {"r": 0.4, "freq": 19.1}, {"r": 0.5, "freq": 8.7}, {"r": 0.6, "freq": 3.4}, {"r": 0.7, "freq": 1.2}
    ]
  }
}
